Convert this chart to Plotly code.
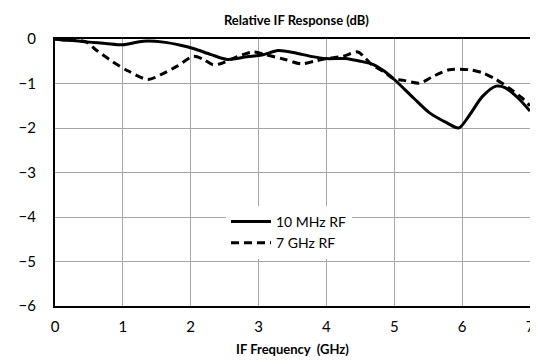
import plotly.graph_objects as go

# IF frequency (GHz) and relative response (dB)
freq_10mhz = [0.0, 0.1, 0.3, 0.5, 0.75, 1.0, 1.3, 1.6, 1.85, 2.05, 2.3, 2.54, 2.83, 3.05, 3.29,
              3.53, 3.77, 4.0, 4.27, 4.5, 4.7, 4.85, 5.0, 5.28, 5.52, 5.77, 5.95, 6.1, 6.3, 6.5,
              6.63, 6.82, 7.0]
resp_10mhz = [0.0, -0.02, -0.04, -0.07, -0.1, -0.13, -0.05, -0.07, -0.14, -0.22, -0.35, -0.46, -0.4,
              -0.36, -0.26, -0.31, -0.39, -0.44, -0.44, -0.5, -0.58, -0.72, -0.91, -1.32, -1.66,
              -1.88, -2.0, -1.73, -1.29, -1.06, -1.09, -1.32, -1.62]

freq_7ghz = [0.0, 0.2, 0.45, 0.6, 0.84, 1.08, 1.37, 1.56, 1.8, 2.04, 2.19, 2.33, 2.45, 2.6, 2.92,
             3.1, 3.39, 3.63, 3.82, 4.0, 4.24, 4.46, 4.55, 4.67, 4.85, 5.0, 5.14, 5.38, 5.57,
             5.81, 6.1, 6.3, 6.5, 6.69, 6.88, 7.0]
resp_7ghz = [0.0, -0.02, -0.06, -0.24, -0.5, -0.72, -0.91, -0.8, -0.61, -0.39, -0.46, -0.58, -0.55,
             -0.45, -0.29, -0.35, -0.46, -0.56, -0.5, -0.44, -0.39, -0.29, -0.39, -0.58, -0.74,
             -0.9, -0.93, -0.99, -0.84, -0.69, -0.69, -0.76, -0.91, -1.1, -1.32, -1.5]

x_ticks = [0, 1, 2, 3, 4, 5, 6, 7]
y_ticks = [0, -1, -2, -3, -4, -5, -6]

fig = go.Figure()
fig.add_trace(go.Scatter(x=freq_10mhz, y=resp_10mhz, mode='lines', name='10 MHz RF',
                         line=dict(color='black', width=3, shape='spline', smoothing=0.8)))
fig.add_trace(go.Scatter(x=freq_7ghz, y=resp_7ghz, mode='lines', name='7 GHz RF',
                         line=dict(color='black', width=3, dash='8px,5px', shape='spline', smoothing=0.8)))

fig.update_layout(
    width=538, height=360,
    margin=dict(l=47, r=11, t=31, b=62),
    paper_bgcolor='white', plot_bgcolor='white',
    font=dict(family='Lato, Open Sans, sans-serif', size=15, color='black'),
    title=dict(text='<b>Relative IF Response (dB)</b>', x=0.536, xanchor='center',
               y=0.965, yanchor='middle', font=dict(size=13)),
    legend=dict(x=0.36, y=0.375, xanchor='left', yanchor='top', bgcolor='white',
                font=dict(size=14), tracegroupgap=0, itemwidth=40),
    showlegend=True,
)
fig.update_xaxes(range=[0, 7], tickvals=x_ticks, showgrid=True, gridcolor='#a6a6a6', gridwidth=1,
                 showline=True, linecolor='black', linewidth=2, mirror=True, ticks='',
                 zeroline=False, ticklabelstandoff=6,
                 title=dict(text='<b>IF Frequency  (GHz)</b>', font=dict(size=13), standoff=11))
fig.update_yaxes(range=[-6, 0], tickvals=y_ticks, showgrid=True, gridcolor='#a6a6a6', gridwidth=1,
                 showline=True, linecolor='black', linewidth=2, mirror=True, ticks='',
                 zeroline=False, ticklabelstandoff=14)

fig.write_html("out.html")
